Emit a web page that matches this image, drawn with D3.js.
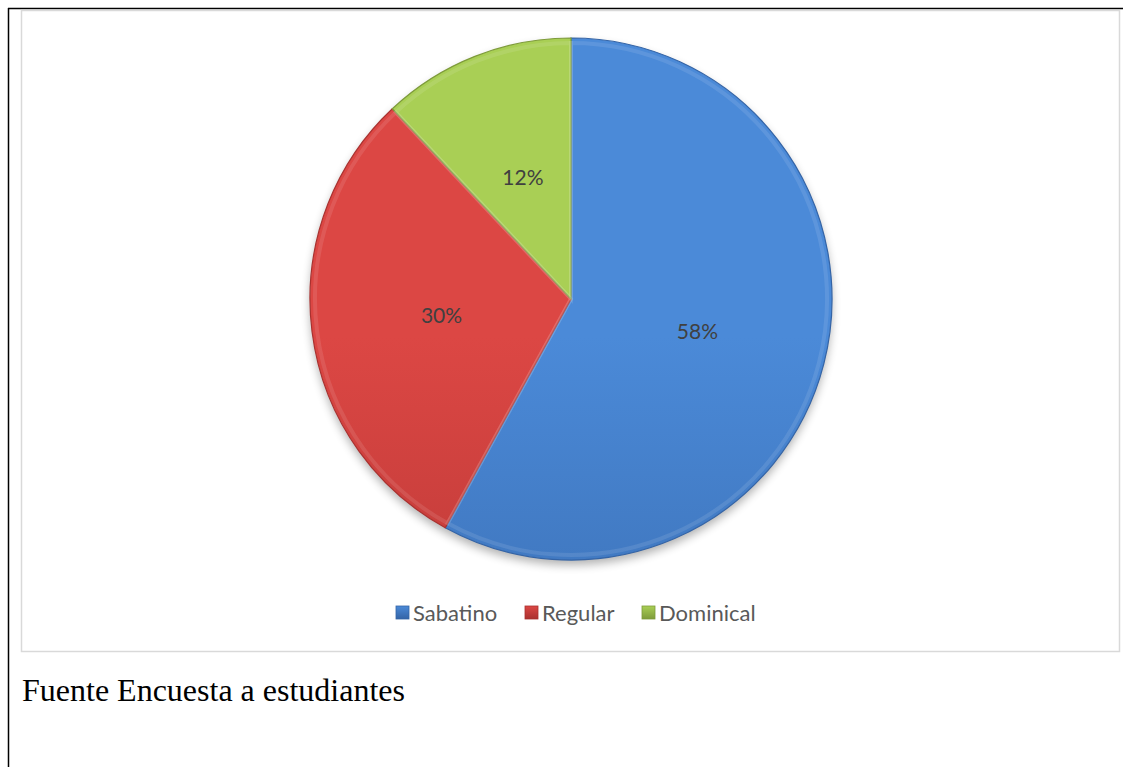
<!DOCTYPE html>
<html>
<head>
<meta charset="utf-8">
<script src="https://cdn.jsdelivr.net/npm/d3@7"></script>
<style>
  body { margin: 0; background: #fff; }
  svg { display: block; }
</style>
</head>
<body>
<svg id="chart" width="1123" height="767"></svg>
<script>
var categories = ["Sabatino", "Regular", "Dominical"];
var values = [58, 30, 12];
var labels = ["58%", "30%", "12%"];
var topColors = ["#4b8ad8", "#dc4744", "#a9cf55"];
var bottomColors = ["#3464a6", "#a9312f", "#7e9b3b"];

var width = 1123, height = 767;
var cx = 571, cy = 299, radius = 261;

var svg = d3.select("#chart");

// page lines and chart frame
svg.append("line").attr("x1", 8.5).attr("y1", 8).attr("x2", 8.5).attr("y2", height)
  .attr("stroke", "#000").attr("stroke-width", 1.5);
svg.append("line").attr("x1", 8).attr("y1", 8.5).attr("x2", width).attr("y2", 8.5)
  .attr("stroke", "#000").attr("stroke-width", 1.5);
svg.append("rect").attr("x", 21.5).attr("y", 10.5).attr("width", 1098).attr("height", 641)
  .attr("fill", "#fff").attr("stroke", "#d9d9d9").attr("stroke-width", 1.5);

var defs = svg.append("defs");
categories.forEach(function(c, i) {
  var g = defs.append("linearGradient").attr("id", "grad" + i)
    .attr("gradientUnits", "userSpaceOnUse")
    .attr("x1", 0).attr("y1", cy - radius).attr("x2", 0).attr("y2", cy + radius);
  g.append("stop").attr("offset", "0%").attr("stop-color", topColors[i]);
  g.append("stop").attr("offset", "100%").attr("stop-color", bottomColors[i]);
  var lg = defs.append("linearGradient").attr("id", "lgrad" + i)
    .attr("x1", 0).attr("y1", 0).attr("x2", 0).attr("y2", 1);
  lg.append("stop").attr("offset", "0%").attr("stop-color", topColors[i]);
  lg.append("stop").attr("offset", "100%").attr("stop-color", bottomColors[i]);
});
var blur = defs.append("filter").attr("id", "shadow")
  .attr("x", "-10%").attr("y", "-10%").attr("width", "120%").attr("height", "130%");
blur.append("feGaussianBlur").attr("stdDeviation", 5);

var pie = d3.pie().sort(null).value(function(d) { return d; });
var arcs = pie(values);
var arc = d3.arc().innerRadius(0).outerRadius(radius);
var bevel = d3.arc().innerRadius(0).outerRadius(radius - 5);
var labelArc = d3.arc().innerRadius(radius / 2).outerRadius(radius / 2);

var g = svg.append("g").attr("transform", "translate(" + cx + "," + cy + ")");

g.append("circle").attr("cx", 0).attr("cy", 5).attr("r", radius)
  .attr("fill", "#000").attr("opacity", 0.3).attr("filter", "url(#shadow)");

g.selectAll("path.slice")
  .data(arcs)
  .enter()
  .append("path")
  .attr("class", "slice")
  .attr("d", arc)
  .attr("fill", function(d, i) { return "url(#grad" + i + ")"; })
  .attr("stroke", function(d, i) { return bottomColors[i]; })
  .attr("stroke-width", 1.2);

// soft bevel: a slightly lighter inner layer
g.selectAll("path.bevel")
  .data(arcs)
  .enter()
  .append("path")
  .attr("class", "bevel")
  .attr("d", bevel)
  .attr("fill", "none")
  .attr("stroke", "#fff")
  .attr("stroke-opacity", 0.1)
  .attr("stroke-width", 4);

g.selectAll("text.label")
  .data(arcs)
  .enter()
  .append("text")
  .attr("class", "label")
  .attr("transform", function(d) { return "translate(" + labelArc.centroid(d) + ")"; })
  .attr("text-anchor", "middle")
  .attr("dy", "0.35em")
  .attr("font-family", "Lato, 'Open Sans', sans-serif")
  .attr("font-size", 21)
  .attr("fill", "#404040")
  .text(function(d, i) { return labels[i]; });

// legend
var legendX = [396, 525, 642];
var legend = svg.append("g").selectAll("g")
  .data(categories)
  .enter()
  .append("g")
  .attr("transform", function(d, i) { return "translate(" + legendX[i] + ",613)"; });
legend.append("rect")
  .attr("x", 0).attr("y", -7).attr("width", 13).attr("height", 13)
  .attr("fill", function(d, i) { return "url(#lgrad" + i + ")"; })
  .attr("stroke", function(d, i) { return bottomColors[i]; })
  .attr("stroke-width", 0.8);
legend.append("text")
  .attr("x", 17).attr("dy", "0.35em")
  .attr("font-family", "Lato, 'Open Sans', sans-serif")
  .attr("font-size", 22)
  .attr("fill", "#595959")
  .text(function(d) { return d; });

svg.append("text")
  .attr("x", 22).attr("y", 701)
  .attr("font-family", "'Liberation Serif', 'Times New Roman', serif")
  .attr("font-size", 32)
  .attr("fill", "#000")
  .text("Fuente Encuesta a estudiantes");
</script>
</body>
</html>
